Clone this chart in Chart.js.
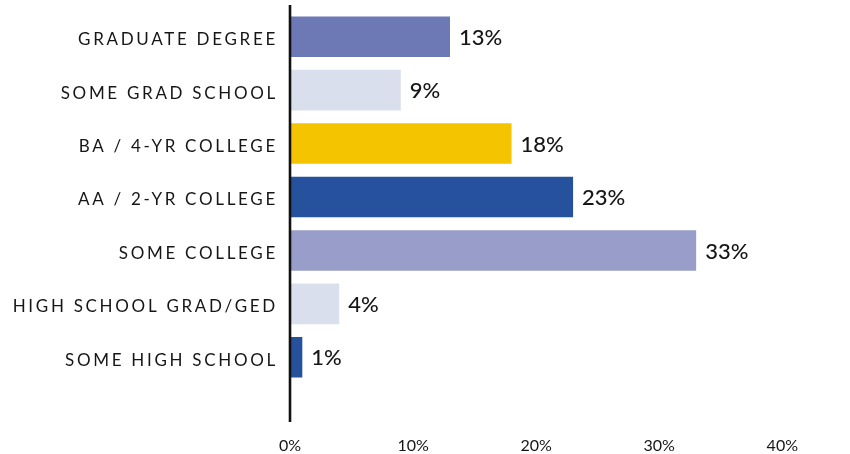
<!DOCTYPE html>
<html>
<head>
<meta charset="utf-8">
<title>Education level</title>
<script src="https://cdn.jsdelivr.net/npm/chart.js@4.4.1/dist/chart.umd.min.js"></script>
<style>
  html, body { margin: 0; padding: 0; background: #fff; }
  #wrap { width: 850px; height: 454px; }
</style>
</head>
<body>
<div id="wrap"><canvas id="edu-chart"></canvas></div>
<script>
var categories = [
    'GRADUATE DEGREE',
    'SOME GRAD SCHOOL',
    'BA / 4-YR COLLEGE',
    'AA / 2-YR COLLEGE',
    'SOME COLLEGE',
    'HIGH SCHOOL GRAD/GED',
    'SOME HIGH SCHOOL'
];

var percents = [13, 9, 18, 23, 33, 4, 1];

var tickValues = [0, 10, 20, 30, 40];

var barColors = [
    '#6c79b5',
    '#d9dfec',
    '#f4c400',
    '#26519c',
    '#989dc9',
    '#d9dfec',
    '#26519c'
];

var textColor = '#161616';

// spaced-out caps for the category names only
const spacing = {
    id: 'spacing',
    beforeDraw: function (chart) {
        chart.ctx.letterSpacing = '2.7px';
    },
    beforeDatasetsDraw: function (chart) {
        chart.ctx.letterSpacing = '0px';
    }
};

// zero line, running a little past the plot at both ends
const baseline = {
    id: 'baseline',
    afterDatasetsDraw: function (chart) {
        var ctx = chart.ctx;
        var x = chart.scales.x.getPixelForValue(0);
        ctx.save();
        ctx.strokeStyle = '#111';
        ctx.lineWidth = 2.6;
        ctx.beginPath();
        ctx.moveTo(x, chart.chartArea.top - 5);
        ctx.lineTo(x, chart.chartArea.bottom + 38);
        ctx.stroke();
        ctx.restore();
    }
};

// percentage printed at the end of each bar
const valueLabels = {
    id: 'valueLabels',
    afterDatasetsDraw: function (chart) {
        var ctx = chart.ctx;
        var meta = chart.getDatasetMeta(0);
        ctx.save();
        ctx.letterSpacing = '0px';
        ctx.font = '500 22px Lato';
        ctx.fillStyle = textColor;
        ctx.textAlign = 'left';
        ctx.textBaseline = 'middle';
        for (var i = 0; i < meta.data.length; i++) {
            var bar = meta.data[i];
            ctx.fillText(percents[i] + '%', bar.x + 9, bar.y + 1);
        }
        ctx.restore();
    }
};

const data = {
    labels: categories,
    datasets: [{
        data: percents,
        backgroundColor: barColors,
        borderWidth: 0,
        categoryPercentage: 1,
        barPercentage: 0.76
    }]
};

const config = {
    type: 'bar',
    data: data,
    plugins: [spacing, baseline, valueLabels],
    options: {
        indexAxis: 'y',
        responsive: true,
        maintainAspectRatio: false,
        animation: false,
        layout: {
            padding: { top: 10, right: 67, left: 0, bottom: 0 }
        },
        plugins: {
            legend: { display: false },
            tooltip: { enabled: false }
        },
        scales: {
            x: {
                min: 0,
                max: 40,
                afterBuildTicks: function (scale) {
                    scale.ticks = tickValues.map(function (v) { return { value: v }; });
                },
                afterFit: function (scale) {
                    scale.height = 70;
                },
                grid: { display: false, drawTicks: false },
                border: { display: false },
                ticks: {
                    z: 1,
                    padding: 52,
                    color: textColor,
                    font: { family: 'Lato', size: 16 },
                    callback: function (v) { return v + '%'; }
                }
            },
            y: {
                afterFit: function (scale) {
                    scale.width = 290;
                    scale.paddingTop = 0;
                    scale.paddingBottom = 0;
                },
                grid: { display: false, drawTicks: false },
                border: { display: false },
                ticks: {
                    padding: 12,
                    labelOffset: 3,
                    color: textColor,
                    font: { family: 'Lato', size: 17 }
                }
            }
        }
    }
};

const eduChart = new Chart(
    document.getElementById('edu-chart'),
    config
);
</script>
</body>
</html>
